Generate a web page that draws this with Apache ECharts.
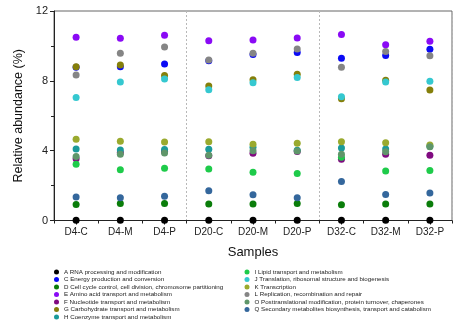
<!DOCTYPE html>
<html>
<head>
<meta charset="utf-8">
<script src="https://cdn.jsdelivr.net/npm/echarts@6/dist/echarts.min.js"></script>
<style>
  html, body { margin: 0; padding: 0; background: #fff; }
  #chart { width: 468px; height: 329px; }
</style>
</head>
<body>
<div id="chart"></div>
<script>
// Sample groups along the x axis
const samples = ['D4-C', 'D4-M', 'D4-P', 'D20-C', 'D20-M', 'D20-P', 'D32-C', 'D32-M', 'D32-P'];

// COG functional categories (legend labels)
const cogNames = [
  'A RNA processing and modification',
  'C Energy production and conversion',
  'D Cell cycle control, cell division, chromosome partitioning',
  'E Amino acid transport and metabolism',
  'F Nucleotide transport and metabolism',
  'G Carbohydrate transport and metabolism',
  'H Coenzyme transport and metabolism',
  'I Lipid transport and metabolism',
  'J Translation, ribosomal structure and biogenesis',
  'K Transcription',
  'L Replication, recombination and repair',
  'O Posttranslational modification, protein turnover, chaperones',
  'Q Secondary metabolites biosynthesis, transport and catabolism'
];

// Relative abundance (%) per category, one value per sample
const valA = [0.02, 0.02, 0.02, 0.02, 0.02, 0.02, 0.02, 0.02, 0.02];
const valC = [8.78, 8.80, 8.97, 9.15, 9.51, 9.62, 9.30, 9.45, 9.81];
const valD = [0.91, 0.97, 0.97, 0.95, 0.95, 0.97, 0.90, 0.95, 0.95];
const valE = [10.50, 10.44, 10.61, 10.29, 10.34, 10.46, 10.65, 10.06, 10.27];
const valF = [3.54, 3.89, 3.95, 3.71, 3.85, 3.95, 3.51, 3.79, 3.74];
const valG = [8.80, 8.91, 8.31, 7.71, 8.06, 8.38, 6.97, 8.04, 7.47];
const valH = [4.10, 4.04, 4.06, 4.08, 4.19, 4.02, 4.15, 4.10, 4.25];
const valI = [3.22, 2.90, 2.99, 2.95, 2.77, 2.69, 3.62, 2.83, 2.86];
const valJ = [7.05, 7.94, 8.10, 7.49, 7.89, 8.19, 7.09, 7.94, 7.97];
const valK = [4.65, 4.54, 4.50, 4.51, 4.37, 4.42, 4.51, 4.46, 4.33];
const valL = [8.34, 9.58, 9.94, 9.20, 9.58, 9.83, 8.78, 9.68, 9.43];
const valO = [3.66, 3.79, 3.87, 3.74, 4.00, 3.98, 3.79, 3.94, 4.23];
const valQ = [1.34, 1.31, 1.39, 1.70, 1.47, 1.31, 2.23, 1.49, 1.57];

const cogValues = [valA, valC, valD, valE, valF, valG, valH, valI, valJ, valK, valL, valO, valQ];

const cogColors = [
  '#000000', '#0a0af5', '#0a7d0a', '#8a0af5', '#800a80', '#857f0a', '#1a9a9a',
  '#1ecb4a', '#35c8d0', '#9aaa2e', '#858585', '#5f966a', '#34679c'
];

const chart = echarts.init(document.getElementById('chart'), null, { renderer: 'canvas' });

const series = cogNames.map((name, i) => ({
  name: name,
  type: 'scatter',
  xAxisIndex: 0,
  yAxisIndex: 0,
  symbol: 'circle',
  symbolSize: 7,
  itemStyle: { color: cogColors[i], opacity: 1 },
  emphasis: { disabled: true },
  data: cogValues[i]
}));

const legendText = { fontFamily: 'Liberation Sans, Arial, sans-serif', fontSize: 6.2, color: '#222' };

const option = {
  animation: false,
  textStyle: { fontFamily: 'Liberation Sans, Arial, sans-serif' },
  grid: {
    left: 54, right: 16, top: 11, bottom: 108.5,
    show: true, borderColor: '#666', borderWidth: 1, backgroundColor: 'transparent'
  },
  xAxis: [
    {
      type: 'category',
      data: samples,
      boundaryGap: true,
      name: 'Samples',
      nameLocation: 'middle',
      nameGap: 25,
      nameTextStyle: { fontSize: 13, color: '#111' },
      axisLine: { lineStyle: { color: '#222', width: 1 } },
      axisTick: { show: true, length: 3, lineStyle: { color: '#222' } },
      axisLabel: { fontSize: 10, color: '#222', margin: 7 },
      splitLine: {
        show: true,
        interval: (idx) => idx === 3 || idx === 6,
        lineStyle: { color: '#b8b8b8', type: [2, 2], width: 1 }
      }
    },
    {
      type: 'category',
      data: samples,
      boundaryGap: true,
      position: 'bottom',
      axisLine: { show: false },
      axisTick: { show: true, alignWithLabel: true, length: 4, lineStyle: { color: '#111' } },
      axisLabel: { show: false },
      splitLine: { show: false }
    }
  ],
  yAxis: {
    type: 'value',
    min: 0, max: 12, interval: 4,
    name: 'Relative abundance (%)',
    nameLocation: 'middle',
    nameGap: 25,
    nameTextStyle: { fontSize: 12.5, color: '#111' },
    axisLine: { show: true, lineStyle: { color: '#222', width: 1 } },
    axisTick: { show: true, length: 4, lineStyle: { color: '#222' } },
    minorTick: { show: true, splitNumber: 2, length: 3, lineStyle: { color: '#222' } },
    axisLabel: { fontSize: 11, color: '#222', margin: 6 },
    splitLine: { show: false }
  },
  legend: [
    {
      data: cogNames.slice(0, 7),
      orient: 'vertical',
      left: 54, top: 269,
      itemWidth: 5, itemHeight: 5, itemGap: 1.5,
      icon: 'circle',
      padding: 0,
      selectedMode: false,
      textStyle: legendText
    },
    {
      data: cogNames.slice(7),
      orient: 'vertical',
      left: 244.5, top: 269,
      itemWidth: 5, itemHeight: 5, itemGap: 1.5,
      icon: 'circle',
      padding: 0,
      selectedMode: false,
      textStyle: legendText
    }
  ],
  series: series
};

chart.setOption(option);
</script>
</body>
</html>
